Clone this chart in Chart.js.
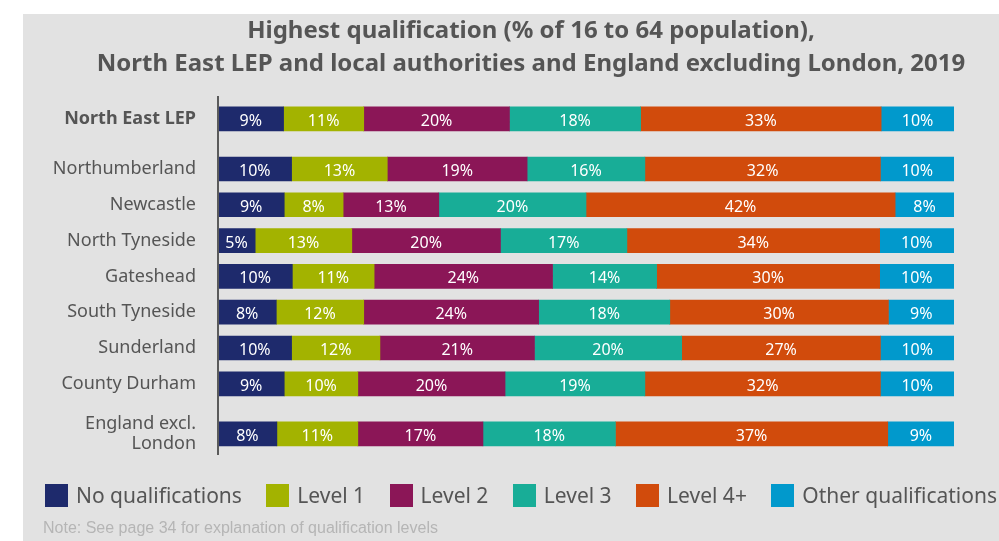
<!DOCTYPE html>
<html>
<head>
<meta charset="utf-8">
<title>Highest qualification, North East LEP 2019</title>
<script src="https://cdn.jsdelivr.net/npm/chart.js@4.4.1/dist/chart.umd.min.js"></script>
<style>
  html, body { margin: 0; padding: 0; background: #fff; width: 999px; height: 541px; overflow: hidden; }
  #panel { position: absolute; left: 23px; top: 14px; width: 976px; height: 527px; background: #e2e2e2; }
  #chart { position: absolute; left: 0; top: 0; }
  #title { position: absolute; left: 63px; top: 12px; width: 936px; text-align: center;
           font: bold 24px/33px "Noto Sans", sans-serif; color: #555; }
  #legend { position: absolute; left: 45px; top: 481px; width: 952px; display: flex;
            justify-content: space-between; align-items: center; font: 21px "Noto Sans", sans-serif; color: #555; }
  #legend .item { display: flex; align-items: center; white-space: nowrap; }
  #legend .box { width: 23px; height: 23px; margin-right: 8px; }
  #note { position: absolute; left: 43px; top: 519px; font: 16px "Liberation Sans Narrow", sans-serif; color: #b5b5b5; }
</style>
</head>
<body>
<div id="panel"></div>
<canvas id="chart" width="999" height="541"></canvas>
<div id="title">Highest qualification (% of 16 to 64 population),<br>North East LEP and local authorities and England excluding London, 2019</div>
<div id="legend"></div>
<div id="note">Note: See page 34 for explanation of qualification levels</div>
<script>
// areas, top to bottom
const categories = ['North East LEP', 'Northumberland', 'Newcastle', 'North Tyneside', 'Gateshead',
                    'South Tyneside', 'Sunderland', 'County Durham', 'England excl. London'];
const seriesNames = ['No qualifications', 'Level 1', 'Level 2', 'Level 3', 'Level 4+', 'Other qualifications'];

// % of 16-64 population, as printed on the bars
const noQualifications = [9, 10, 9, 5, 10, 8, 10, 9, 8];
const level1 = [11, 13, 8, 13, 11, 12, 12, 10, 11];
const level2 = [20, 19, 13, 20, 24, 24, 21, 20, 17];
const level3 = [18, 16, 20, 17, 14, 18, 20, 19, 18];
const level4 = [33, 32, 42, 34, 30, 30, 27, 32, 37];
const otherQualifications = [10, 10, 8, 10, 10, 9, 10, 10, 9];

const seriesValues = [noQualifications, level1, level2, level3, level4, otherQualifications];
const seriesColors = ['#1e2a6c', '#a3b300', '#8b1657', '#18ad97', '#d14b0c', '#0199cc'];

// LEP row and England row sit a bit apart from the local authorities
const groupGap = 1.4;
const rowPos = [];
categories.forEach((c, i) => {
  if (i === 0) rowPos.push(0);
  else rowPos.push(rowPos[i - 1] + (i === 1 || i === categories.length - 1 ? groupGap : 1));
});
const yMin = -0.61, yMax = rowPos[rowPos.length - 1] + 0.56;

// printed values are rounded, so scale every row to a full 100% bar
const rowTotals = categories.map((c, i) => seriesValues.reduce((s, arr) => s + arr[i], 0));

const datasets = seriesNames.map((name, k) => ({
  label: name,
  data: seriesValues[k].map((v, i) => ({ x: v / rowTotals[i] * 100, y: rowPos[i] })),
  backgroundColor: seriesColors[k],
  borderWidth: 0,
  barThickness: 24
}));

function wrapLabel(text) {
  if (text.length <= 16) return text;
  const cut = text.lastIndexOf(' ');
  return [text.slice(0, cut), text.slice(cut + 1)];
}

// white % labels in the middle of each segment
const segmentLabels = {
  id: 'segmentLabels',
  afterDatasetsDraw(chart) {
    const ctx = chart.ctx;
    ctx.save();
    ctx.fillStyle = '#fff';
    ctx.font = '16px "Noto Sans"';
    ctx.textAlign = 'center';
    ctx.textBaseline = 'alphabetic';
    chart.data.datasets.forEach((ds, k) => {
      chart.getDatasetMeta(k).data.forEach((bar, i) => {
        const c = bar.getCenterPoint();
        ctx.fillText(seriesValues[k][i] + '%', c.x, c.y + 7);
      });
    });
    ctx.restore();
  }
};

new Chart(document.getElementById('chart'), {
  type: 'bar',
  data: { datasets: datasets },
  options: {
    indexAxis: 'y',
    responsive: false,
    animation: false,
    devicePixelRatio: 1,
    layout: { padding: { top: 97, bottom: 87, left: 0, right: 45 } },
    plugins: {
      legend: { display: false },
      tooltip: { enabled: false }
    },
    scales: {
      x: { type: 'linear', stacked: true, min: 0, max: 100, display: false },
      y: {
        type: 'linear',
        stacked: true,
        reverse: true,
        offset: false,
        min: yMin,
        max: yMax,
        afterBuildTicks: s => { s.ticks = rowPos.map(v => ({ value: v })); },
        afterFit: s => { s.width = 218; },
        grid: { display: false, drawTicks: false },
        border: { display: true, color: '#5b5b5b', width: 2, z: 1 },
        ticks: {
          autoSkip: false,
          padding: 22,
          color: '#555',
          font: ctx => ({ family: 'Noto Sans', size: 18, lineHeight: 1.12, weight: ctx.index === 0 ? 'bold' : 'normal' }),
          callback: (v, i) => wrapLabel(categories[i])
        }
      },
      sep: {
        type: 'linear',
        axis: 'y',
        position: 'right',
        reverse: true,
        offset: false,
        min: yMin,
        max: yMax,
        // separator lines half way between rows
        afterBuildTicks: s => { s.ticks = rowPos.slice(1).map((v, i) => ({ value: (v + rowPos[i]) / 2 })); },
        afterFit: s => { s.width = 0; },
        grid: { color: '#8c8c8c', lineWidth: 2, drawTicks: false },
        border: { display: false },
        ticks: { display: false }
      }
    }
  },
  plugins: [segmentLabels]
});

// legend
const legendEl = document.getElementById('legend');
seriesNames.forEach((name, k) => {
  const item = document.createElement('div');
  item.className = 'item';
  const box = document.createElement('span');
  box.className = 'box';
  box.style.background = seriesColors[k];
  item.appendChild(box);
  item.appendChild(document.createTextNode(name));
  legendEl.appendChild(item);
});
</script>
</body>
</html>
